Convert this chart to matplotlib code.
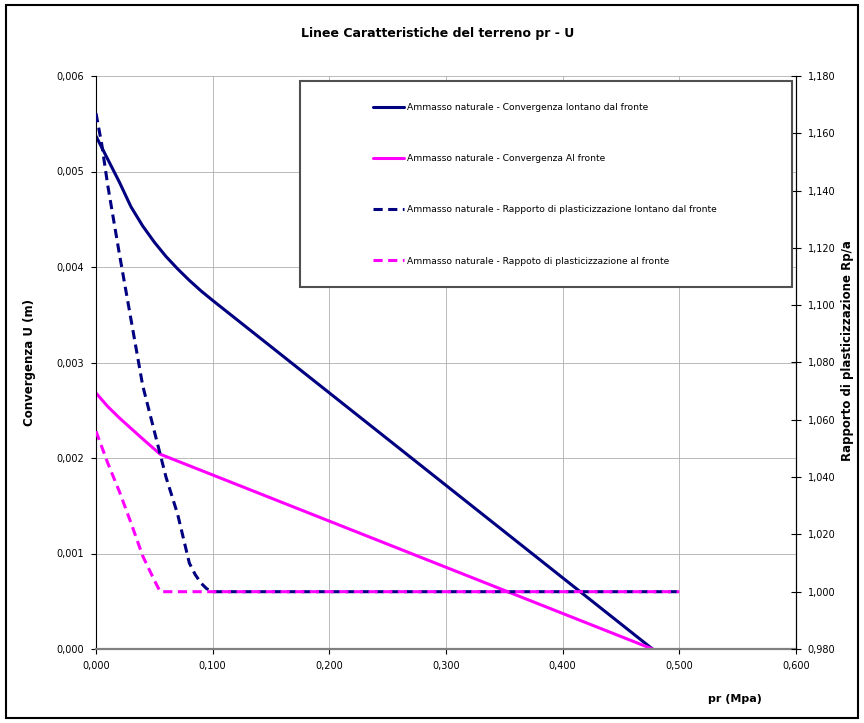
import matplotlib
matplotlib.use('Agg')
import matplotlib.pyplot as plt
from matplotlib.patches import Rectangle
from matplotlib.ticker import FuncFormatter, MultipleLocator

# Convergenza lontano dal fronte (m)
pr_far = [0.0, 0.01, 0.02, 0.03, 0.04, 0.05, 0.06, 0.07, 0.08, 0.09, 0.10, 0.477]
u_far = [0.00537, 0.00513, 0.00489, 0.00463, 0.00443, 0.00426, 0.00411,
         0.00398, 0.00386, 0.00375, 0.00365, 0.0]

# Convergenza al fronte (m)
pr_front = [0.0, 0.01, 0.02, 0.03, 0.04, 0.055, 0.477]
u_front = [0.00268, 0.00254, 0.00242, 0.00231, 0.00220, 0.00204, 0.0]

# Rapporto di plasticizzazione lontano dal fronte (Rp/a)
pr_rp_far = [0.0, 0.005, 0.01, 0.015, 0.02, 0.03, 0.04, 0.05, 0.06, 0.07,
             0.08, 0.085, 0.09, 0.095, 0.10, 0.50]
rp_far = [1.167, 1.156, 1.142, 1.130, 1.118, 1.095, 1.072, 1.056, 1.040, 1.027,
          1.010, 1.006, 1.003, 1.001, 1.000, 1.000]

# Rapporto di plasticizzazione al fronte (Rp/a)
pr_rp_front = [0.0, 0.01, 0.02, 0.03, 0.04, 0.05, 0.055, 0.50]
rp_front = [1.056, 1.045, 1.035, 1.024, 1.0125, 1.004, 1.000, 1.000]

labels = ['Ammasso naturale - Convergenza lontano dal fronte',
          'Ammasso naturale - Convergenza Al fronte',
          'Ammasso naturale - Rapporto di plasticizzazione lontano dal fronte',
          'Ammasso naturale - Rappoto di plasticizzazione al fronte']

navy = '#000080'
magenta = '#FF00FF'


def comma(fmt):
    return FuncFormatter(lambda v, p: format(v, fmt).replace('.', ','))


fig = plt.figure(figsize=(8.64, 7.23), dpi=100)
ax = fig.add_axes([96 / 864, 74 / 723, 700 / 864, 573 / 723])
ax2 = ax.twinx()

l1, = ax.plot(pr_far, u_far, color=navy, lw=2.2, solid_capstyle='round')
l2, = ax.plot(pr_front, u_front, color=magenta, lw=2.2, solid_capstyle='round')
l3, = ax2.plot(pr_rp_far, rp_far, color=navy, lw=2.2, dashes=(3, 1.8))
l4, = ax2.plot(pr_rp_front, rp_front, color=magenta, lw=2.2, dashes=(3, 1.8))

ax.set_xlim(0, 0.6)
ax.set_ylim(0, 0.006)
ax2.set_ylim(0.98, 1.18)
ax.xaxis.set_major_locator(MultipleLocator(0.1))
ax.yaxis.set_major_locator(MultipleLocator(0.001))
ax2.yaxis.set_major_locator(MultipleLocator(0.02))
ax.xaxis.set_major_formatter(comma('.3f'))
ax.yaxis.set_major_formatter(comma('.3f'))
ax2.yaxis.set_major_formatter(comma('.3f'))

ax.grid(True, color='#b0b0b0', lw=0.6)
ax.set_axisbelow(True)

for a in (ax, ax2):
    a.spines['top'].set_visible(False)
ax.spines['left'].set_color('black')
ax.spines['bottom'].set_color('#808080')
ax.spines['bottom'].set_linewidth(1.6)
ax2.spines['right'].set_color('black')
ax2.spines['left'].set_visible(False)
ax2.spines['bottom'].set_visible(False)

ax.tick_params(axis='both', labelsize=7, direction='out', length=3.5, pad=5)
ax2.tick_params(axis='y', labelsize=7, direction='inout', length=7, pad=5)

ax.set_ylabel('Convergenza U (m)', fontsize=8.5, fontweight='bold')
ax.yaxis.set_label_coords(-0.085, 0.5)
ax2.set_ylabel('Rapporto di plasticizzazione Rp/a', fontsize=8.5, fontweight='bold')
ax2.yaxis.set_label_coords(1.065, 0.52)
fig.text(735 / 864, 1 - 699 / 723, 'pr (Mpa)', fontsize=8, fontweight='bold',
         ha='center', va='center')
fig.text(438 / 864, 1 - 33 / 723, 'Linee Caratteristiche del terreno pr - U',
         fontsize=9, fontweight='bold', ha='center', va='center')

# legend box
fig.add_artist(Rectangle((300 / 864, 1 - 287 / 723), 492 / 864, 206 / 723,
                         transform=fig.transFigure, facecolor='white',
                         edgecolor='#505050', lw=1.5, zorder=5))
leg = fig.legend([l1, l2, l3, l4], labels, loc='upper left',
                 bbox_to_anchor=(373 / 864, 1 - 103 / 723), frameon=False,
                 fontsize=6.6, handlelength=3.4, handletextpad=0.3,
                 labelspacing=4.6, borderpad=0, borderaxespad=0)
leg.set_zorder(6)

# outer chart border
fig.add_artist(Rectangle((6 / 864, 5 / 723), 852 / 864, 713 / 723,
                         transform=fig.transFigure, fill=False,
                         edgecolor='black', lw=1.5))

fig.savefig('out.png', dpi=100)
